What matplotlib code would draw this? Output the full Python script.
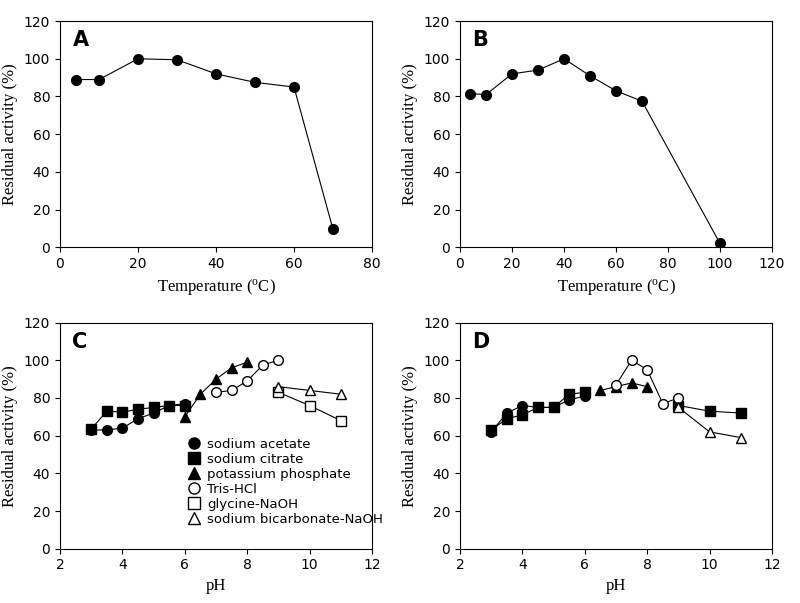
import matplotlib.pyplot as plt
from matplotlib.lines import Line2D

plt.rcParams['font.family'] = ['Liberation Serif', 'DejaVu Serif']

temp_a = [4, 10, 20, 30, 40, 50, 60, 70]
act_a = [89, 89, 100, 99.5, 92, 87.5, 85, 9.5]
temp_b = [4, 10, 20, 30, 40, 50, 60, 70, 100]
act_b = [81.5, 81, 92, 94, 100, 91, 83, 77.5, 2]

# panel C
c_acetate = ([3, 3.5, 4, 4.5, 5, 5.5, 6], [63, 63, 64, 69, 72, 76, 77])
c_citrate = ([3, 3.5, 4, 4.5, 5, 5.5, 6], [63.5, 73, 72.5, 74, 75, 76, 76])
c_phosphate = ([6, 6.5, 7, 7.5, 8], [70, 82, 90, 96, 99])
c_tris = ([7, 7.5, 8, 8.5, 9], [83, 84, 89, 97.5, 100])
c_glycine = ([9, 10, 11], [83, 76, 68])
c_bicarb = ([9, 10, 11], [86, 84, 82])

# panel D
d_acetate = ([3, 3.5, 4, 4.5, 5, 5.5, 6], [62, 72, 76, 75, 75, 79, 81])
d_citrate_low = ([3, 3.5, 4, 4.5, 5, 5.5, 6], [63, 69, 71, 75, 75, 82, 83])
d_citrate_high = ([9, 10, 11], [76, 73, 72])
d_phosphate = ([6.5, 7, 7.5, 8], [84, 86, 88, 86])
d_tris = ([7, 7.5, 8, 8.5, 9], [87, 100, 95, 77, 80])
d_bicarb = ([9, 10, 11], [75, 62, 59])

series_names = ['sodium acetate', 'sodium citrate', 'potassium phosphate',
                'Tris-HCl', 'glycine-NaOH', 'sodium bicarbonate-NaOH']
styles = [('o', 'black'), ('s', 'black'), ('^', 'black'),
          ('o', 'white'), ('s', 'white'), ('^', 'white')]

fig = plt.figure(figsize=(8, 6.03), dpi=100)
axA = fig.add_axes([0.075, 0.59, 0.39, 0.375])
axB = fig.add_axes([0.575, 0.59, 0.39, 0.375])
axC = fig.add_axes([0.075, 0.09, 0.39, 0.375])
axD = fig.add_axes([0.575, 0.09, 0.39, 0.375])


def draw(ax, x, y, style):
    m, fc = style
    ax.plot(x, y, color='black', lw=0.8, marker=m, mfc=fc, mec='black', ms=7)


draw(axA, temp_a, act_a, styles[0])
draw(axB, temp_b, act_b, styles[0])
for s, st in zip([c_acetate, c_citrate, c_phosphate, c_tris, c_glycine, c_bicarb], styles):
    draw(axC, s[0], s[1], st)
for s, st in [(d_acetate, styles[0]), (d_citrate_low, styles[1]),
              (d_citrate_high, styles[1]), (d_phosphate, styles[2]),
              (d_tris, styles[3]), (d_bicarb, styles[5])]:
    draw(axD, s[0], s[1], st)

for ax, lab in zip([axA, axB, axC, axD], 'ABCD'):
    ax.set_ylim(0, 120)
    ax.set_yticks(range(0, 121, 20))
    ax.set_ylabel('Residual activity (%)', fontsize=12)
    ax.text(0.04, 0.96, lab, transform=ax.transAxes, fontsize=15,
            fontweight='bold', va='top', family=['DejaVu Sans'])
    ax.tick_params(labelsize=10)
    for t in ax.get_xticklabels() + ax.get_yticklabels():
        t.set_family('DejaVu Sans')
axA.set_xlim(0, 80)
axB.set_xlim(0, 120)
for ax in (axA, axB):
    ax.set_xlabel('Temperature ($\\mathregular{^oC}$)', fontsize=12)
for ax in (axC, axD):
    ax.set_xlim(2, 12)
    ax.set_xlabel('pH', fontsize=12)
for ax in (axA, axB, axC, axD):
    for t in ax.get_xticklabels() + ax.get_yticklabels():
        t.set_family('DejaVu Sans')

handles = [Line2D([], [], ls='none', marker=m, mfc=fc, mec='black', ms=8)
           for m, fc in styles]
axC.legend(handles, series_names, loc='lower left', bbox_to_anchor=(0.37, 0.05),
           frameon=False, handlelength=1.0, labelspacing=0.15, handletextpad=0.5,
           prop={'family': 'DejaVu Sans', 'size': 9.5})

fig.savefig('out.png', dpi=100)
